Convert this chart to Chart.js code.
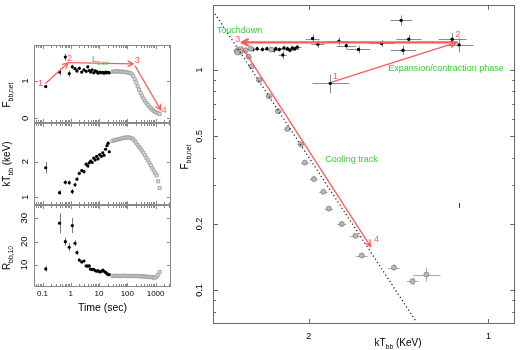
<!DOCTYPE html>
<html><head><meta charset="utf-8">
<script src="https://cdn.jsdelivr.net/npm/chart.js@4/dist/chart.umd.min.js"></script>
<style>
html,body{margin:0;padding:0;background:#fff}
#wrap{position:relative;width:520px;height:350px;overflow:hidden}
#wrap canvas{position:absolute;left:0;top:0}
</style></head>
<body><div id="wrap">
<canvas id="cFlux" width="520" height="350"></canvas>
<canvas id="cKT" width="520" height="350"></canvas>
<canvas id="cR" width="520" height="350"></canvas>
<canvas id="cRight" width="520" height="350"></canvas>
</div>
<script>
// ---------- data: left panels (time series) ----------
const tBlack = [0.13, 0.40, 0.64, 0.88, 1.13, 1.41, 1.65, 2.0, 2.43, 2.93, 3.5, 4.0, 4.5, 5.0, 5.7, 6.5, 7.3, 8.2, 9.2, 10.5, 12, 13.5, 15, 17, 19, 21, 23];
const fluxBlack = [0.85, 1.24, 1.64, 1.20, 1.38, 1.33, 1.27, 1.34, 1.24, 1.30, 1.26, 1.38, 1.28, 1.24, 1.30, 1.22, 1.27, 1.25, 1.21, 1.24, 1.22, 1.23, 1.21, 1.24, 1.22, 1.23, 1.22];
const fluxBlackErr = [0.04, 0.09, 0.09, 0.08, 0.06, 0.05, 0.05, 0.05, 0.04, 0.04, 0.04, 0.04, 0.04, 0.03, 0.03, 0.03, 0.03, 0.03, 0.03, 0.03, 0.03, 0.03, 0.03, 0.03, 0.03, 0.03, 0.03];
const ktBlack = [1.83, 1.13, 1.42, 1.41, 1.16, 1.35, 1.51, 1.67, 1.75, 1.72, 1.93, 1.88, 1.97, 2.02, 1.98, 2.10, 2.05, 2.15, 2.08, 2.20, 2.15, 2.25, 2.18, 2.35, 2.45, 2.52, 2.28];
const ktBlackErr = [0.16, 0.07, 0.07, 0.06, 0.08, 0.06, 0.05, 0.05, 0.05, 0.05, 0.05, 0.05, 0.05, 0.04, 0.04, 0.04, 0.04, 0.04, 0.04, 0.04, 0.04, 0.04, 0.04, 0.04, 0.04, 0.04, 0.04];
const rBlack = [8.3, 27.9, 20.0, 17.6, 26.9, 19.3, 15.3, 12.1, 11.3, 11.7, 9.6, 9.5, 9.6, 8.2, 8.0, 8.1, 7.6, 7.3, 7.6, 7.0, 7.2, 7.8, 7.3, 6.8, 6.3, 5.8, 5.9];
const rBlackErr = [1.2, 4.3, 1.7, 1.7, 3.2, 1.3, 1.0, 0.8, 0.7, 0.6, 0.5, 0.5, 0.5, 0.5, 0.5, 0.5, 0.5, 0.5, 0.5, 0.5, 0.5, 0.5, 0.5, 0.5, 0.5, 0.5, 0.5];

const tGray = [30, 34, 38, 43, 48, 54, 61, 69, 78, 88, 100, 113, 127, 143, 161, 182, 205, 231, 260, 293, 330, 372, 419, 472, 532, 600, 676, 762, 858, 967, 1090, 1230, 1385];
const fluxGray = [1.25, 1.25, 1.26, 1.26, 1.26, 1.25, 1.25, 1.25, 1.24, 1.24, 1.23, 1.22, 1.21, 1.18, 1.13, 1.05, 0.96, 0.86, 0.77, 0.68, 0.60, 0.53, 0.46, 0.41, 0.36, 0.31, 0.27, 0.23, 0.20, 0.17, 0.15, 0.13, 0.12];
const ktGray = [2.58, 2.60, 2.61, 2.62, 2.63, 2.64, 2.65, 2.66, 2.67, 2.68, 2.68, 2.68, 2.67, 2.66, 2.63, 2.59, 2.53, 2.47, 2.42, 2.37, 2.31, 2.25, 2.18, 2.11, 2.04, 1.97, 1.90, 1.82, 1.75, 1.68, 1.62, 1.45, 1.26];
const rGray = [5.3, 5.3, 5.4, 5.3, 5.3, 5.2, 5.3, 5.3, 5.4, 5.3, 5.3, 5.2, 5.3, 5.3, 5.2, 5.3, 5.2, 5.3, 5.2, 5.1, 5.2, 5.1, 5.0, 5.0, 4.9, 4.9, 4.8, 4.7, 4.6, 4.6, 5.0, 5.8, 7.0];

// ---------- data: right panel (flux vs temperature) ----------
const kTExp = [2.48, 2.44, 2.39, 2.35, 2.32, 2.29, 2.27, 2.24, 2.21, 2.20, 2.17, 2.15, 2.13, 2.11, 2.09, 1.97, 1.93, 1.78, 1.73, 1.65, 1.51, 1.40, 1.36, 1.39, 1.15, 1.12, 1.84];
const fExp = [1.24, 1.25, 1.24, 1.25, 1.24, 1.23, 1.25, 1.24, 1.17, 1.26, 1.25, 1.23, 1.26, 1.25, 1.27, 1.39, 1.31, 1.35, 1.29, 1.24, 1.32, 1.68, 1.38, 1.23, 1.38, 1.30, 0.87];
const kTExpErr = [0.035, 0.035, 0.035, 0.035, 0.035, 0.035, 0.035, 0.035, 0.035, 0.035, 0.035, 0.035, 0.035, 0.035, 0.035, 0.053, 0.05, 0.068, 0.066, 0.074, 0.072, 0.059, 0.066, 0.067, 0.062, 0.061, 0.13];
const fExpErr = [0.03, 0.03, 0.03, 0.03, 0.03, 0.03, 0.03, 0.03, 0.05, 0.03, 0.03, 0.03, 0.03, 0.03, 0.03, 0.057, 0.05, 0.057, 0.05, 0.05, 0.05, 0.09, 0.06, 0.06, 0.09, 0.10, 0.085];

const kTCool = [2.64, 2.62, 2.60, 2.63, 2.55, 2.50, 2.31, 2.52, 2.49, 2.42, 2.33, 2.25, 2.17, 2.06, 2.03, 1.96, 1.89, 1.85, 1.76, 1.67, 1.63, 1.44, 1.34, 1.27];
const fCool = [1.22, 1.24, 1.21, 1.20, 1.23, 1.25, 1.24, 1.15, 1.04, 0.90, 0.76, 0.65, 0.54, 0.46, 0.38, 0.32, 0.28, 0.235, 0.20, 0.177, 0.144, 0.127, 0.110, 0.118];
const kTCoolErr = [0.03, 0.03, 0.03, 0.03, 0.03, 0.03, 0.03, 0.03, 0.03, 0.03, 0.03, 0.03, 0.03, 0.03, 0.03, 0.03, 0.03, 0.03, 0.03, 0.035, 0.037, 0.033, 0.03, 0.067];
const fCoolErr = [0.02, 0.02, 0.02, 0.02, 0.02, 0.02, 0.02, 0.02, 0.02, 0.02, 0.015, 0.013, 0.011, 0.009, 0.008, 0.007, 0.006, 0.005, 0.005, 0.004, 0.004, 0.004, 0.004, 0.0085];

const kTLine = [2.87, 1.325];        // F ∝ T^4 reference line endpoints
const fLine = [1.80, 0.073];
const kTTypical = [1.12];
const fTypical = [0.243];
const fTypicalErr = [0.006];

// ---------- tick labels ----------
const timeTicks = [0.1, 1, 10, 100, 1000];
const fluxTicks = [0, 1];
const ktTicks = [1, 2];
const rTicks = [10, 20, 30];
const kTTicks = [2, 1];
const fTicks = [0.1, 0.2, 0.5, 1];

// ---------- helpers ----------
const FAM = '"Liberation Sans", Arial, Helvetica, sans-serif';
const pts = (xs, ys) => xs.map((x, i) => ({x: x, y: ys[i]}));
const logMinor = (lo, hi) => { const out = []; for (let e = -3; e <= 4; e++) for (let m = 1; m <= 9; m++) { const v = m * Math.pow(10, e); if (v >= lo && v <= hi) out.push(+v.toPrecision(6)); } return out; };

function drawRich(ctx, parts, x, y, size, color, rot, align) {
  ctx.save();
  ctx.translate(x, y);
  if (rot) ctx.rotate(rot * Math.PI / 180);
  let total = 0;
  const seg = parts.map(p => { const s = p[1] ? size * 0.68 : size; ctx.font = s + 'px ' + FAM; const w = ctx.measureText(p[0]).width; total += w; return {t: p[0], s: s, w: w, sub: p[1]}; });
  let cx = align === 'left' ? 0 : (align === 'right' ? -total : -total / 2);
  ctx.fillStyle = color;
  ctx.textBaseline = 'middle';
  ctx.textAlign = 'left';
  seg.forEach(g => { ctx.font = g.s + 'px ' + FAM; ctx.fillText(g.t, cx, g.sub ? size * 0.38 : 0); cx += g.w; });
  ctx.restore();
}

const errorBars = {
  id: 'errorBars',
  beforeDatasetsDraw(chart) {
    const ctx = chart.ctx, xs = chart.scales.x, ys = chart.scales.y, a = chart.chartArea;
    ctx.save();
    ctx.beginPath(); ctx.rect(a.left, a.top, a.right - a.left, a.bottom - a.top); ctx.clip();
    chart.data.datasets.forEach(ds => {
      if (!ds.xerr && !ds.yerr) return;
      ctx.strokeStyle = ds.errorColor || '#888';
      ctx.lineWidth = 1;
      ds.data.forEach((p, j) => {
        const px = Math.round(xs.getPixelForValue(p.x)) + 0.5, py = Math.round(ys.getPixelForValue(p.y)) + 0.5;
        ctx.beginPath();
        if (ds.xerr && ds.xerr[j]) { ctx.moveTo(xs.getPixelForValue(p.x - ds.xerr[j]), py); ctx.lineTo(xs.getPixelForValue(p.x + ds.xerr[j]), py); }
        if (ds.yerr && ds.yerr[j]) { ctx.moveTo(px, ys.getPixelForValue(p.y - ds.yerr[j])); ctx.lineTo(px, ys.getPixelForValue(p.y + ds.yerr[j])); }
        ctx.stroke();
      });
    });
    ctx.restore();
  }
};

const frameTicks = {
  id: 'frameTicks',
  afterDatasetsDraw(chart, args, o) {
    const ctx = chart.ctx, a = chart.chartArea, xs = chart.scales.x, ys = chart.scales.y;
    ctx.save();
    ctx.strokeStyle = o.color; ctx.lineWidth = 1;
    ctx.strokeRect(Math.round(a.left) + 0.5, Math.round(a.top) + 0.5, Math.round(a.right - a.left) - 1, Math.round(a.bottom - a.top) - 1);
    ctx.beginPath();
    const tx = (vals, len) => vals.forEach(v => { const p = Math.round(xs.getPixelForValue(v)) + 0.5; if (p < a.left || p > a.right) return; ctx.moveTo(p, a.bottom); ctx.lineTo(p, a.bottom - len); ctx.moveTo(p, a.top); ctx.lineTo(p, a.top + len); });
    const ty = (vals, len) => vals.forEach(v => { const p = Math.round(ys.getPixelForValue(v)) + 0.5; if (p < a.top || p > a.bottom) return; ctx.moveTo(a.left, p); ctx.lineTo(a.left + len, p); ctx.moveTo(a.right, p); ctx.lineTo(a.right - len, p); });
    tx(o.xMinor || [], o.minorLen); tx(o.xMajor || [], o.majorLen);
    ty(o.yMinor || [], o.minorLen); ty(o.yMajor || [], o.majorLen);
    ctx.stroke();
    ctx.restore();
  }
};

const arrows = {
  id: 'arrows',
  afterDatasetsDraw(chart, args, o) {
    const ctx = chart.ctx, xs = chart.scales.x, ys = chart.scales.y;
    ctx.save();
    ctx.strokeStyle = o.color; ctx.lineCap = 'round'; ctx.lineJoin = 'round';
    (o.items || []).forEach(it => {
      const x1 = xs.getPixelForValue(it.from[0]), y1 = ys.getPixelForValue(it.from[1]);
      const x2 = xs.getPixelForValue(it.to[0]), y2 = ys.getPixelForValue(it.to[1]);
      const ang = Math.atan2(y2 - y1, x2 - x1), L = o.head, w = 0.45;
      ctx.lineWidth = it.width || 1.2;
      ctx.beginPath(); ctx.moveTo(x1, y1); ctx.lineTo(x2, y2);
      ctx.moveTo(x2 - L * Math.cos(ang - w), y2 - L * Math.sin(ang - w)); ctx.lineTo(x2, y2);
      ctx.lineTo(x2 - L * Math.cos(ang + w), y2 - L * Math.sin(ang + w));
      ctx.stroke();
    });
    ctx.restore();
  }
};

const texts = {
  id: 'texts',
  afterDraw(chart, args, o) {
    const ctx = chart.ctx, xs = chart.scales.x, ys = chart.scales.y, a = chart.chartArea;
    (o.items || []).forEach(it => {
      const x = it.xd !== undefined ? xs.getPixelForValue(it.xd) : it.x;
      const y = it.yd !== undefined ? ys.getPixelForValue(it.yd) : it.y;
      drawRich(ctx, it.parts, x, y, it.size, it.color || '#000', it.rot || 0, it.align || 'center');
    });
    (o.yLabels || []).forEach(v => drawRich(ctx, [[String(v)]], a.left - o.yLabelOffset, ys.getPixelForValue(v), o.yLabelSize, '#000', -90, 'center'));
  }
};

Chart.register(errorBars, frameTicks, arrows, texts);

const RED = '#ff5a5a', GREEN = '#3cc83c';

function timeScale(showLabels) {
  return {
    type: 'logarithmic', min: 0.05, max: 3500, display: showLabels,
    grid: {display: false, drawTicks: false}, border: {display: false},
    afterBuildTicks: s => { s.ticks = timeTicks.map(v => ({value: v})); },
    afterFit: s => { s.height = showLabels ? 63 : 0; },
    ticks: {display: true, autoSkip: false, maxRotation: 0, padding: 2, font: {size: 8, family: FAM}, color: '#000', callback: v => String(v)},
    title: {display: true, text: 'Time (sec)', font: {size: 10.5, family: FAM}, color: '#000', padding: {top: 0, bottom: 36}}
  };
}
function hiddenY(min, max, type) {
  return {type: type || 'linear', min: min, max: max, display: false};
}
function blackDs(xs, ys, yerr) {
  return {data: pts(xs, ys), yerr: yerr, errorColor: '#777', pointRadius: 1.6, pointBackgroundColor: '#000', pointBorderWidth: 0, showLine: false};
}
function grayDs(xs, ys) {
  return {data: pts(xs, ys), pointStyle: 'rect', pointRadius: 2.2, pointBackgroundColor: '#dcdcdc', pointBorderColor: '#9a9a9a', pointBorderWidth: 0.8, showLine: false};
}
const base = {responsive: false, animation: false, events: [], devicePixelRatio: 1};
const timeMinor = logMinor(0.05, 3500);

// Panel 1: flux vs time
new Chart(document.getElementById('cFlux'), {
  type: 'scatter',
  data: {datasets: [grayDs(tGray, fluxGray), blackDs(tBlack, fluxBlack, fluxBlackErr)]},
  options: Object.assign({}, base, {
    layout: {padding: {left: 34, right: 349, top: 45, bottom: 227}},
    scales: {x: timeScale(false), y: hiddenY(-0.126, 1.965)},
    plugins: {
      legend: {display: false}, tooltip: {enabled: false},
      frameTicks: {color: '#8a8a8a', xMajor: timeTicks, xMinor: timeMinor, yMajor: fluxTicks, majorLen: 4, minorLen: 3},
      arrows: {color: RED, head: 6, items: [
        {from: [0.13, 0.94], to: [0.81, 1.49]},
        {from: [0.81, 1.49], to: [162, 1.46]},
        {from: [190, 1.40], to: [1530, 0.22]}
      ]},
      texts: {yLabels: fluxTicks, yLabelOffset: 9, yLabelSize: 9.5, items: [
        {parts: [['1']], xd: 0.085, yd: 0.93, size: 9, color: RED},
        {parts: [['2']], xd: 0.90, yd: 1.60, size: 9, color: RED},
        {parts: [['3']], xd: 225, yd: 1.54, size: 9, color: RED},
        {parts: [['4']], xd: 2000, yd: 0.20, size: 9, color: RED},
        {parts: [['L'], ['Edd', 1]], xd: 10.8, yd: 1.57, size: 9, color: GREEN},
        {parts: [['F'], ['bb,net', 1]], x: 7, y: 95, size: 10, rot: -90}
      ]}
    }
  })
});

// Panel 2: kT vs time
new Chart(document.getElementById('cKT'), {
  type: 'scatter',
  data: {datasets: [grayDs(tGray, ktGray), blackDs(tBlack, ktBlack, ktBlackErr)]},
  options: Object.assign({}, base, {
    layout: {padding: {left: 34, right: 349, top: 123, bottom: 145}},
    scales: {x: timeScale(false), y: hiddenY(0.784, 3.087)},
    plugins: {
      legend: {display: false}, tooltip: {enabled: false},
      frameTicks: {color: '#8a8a8a', xMajor: timeTicks, xMinor: timeMinor, yMajor: ktTicks, majorLen: 4, minorLen: 3},
      texts: {yLabels: ktTicks, yLabelOffset: 9, yLabelSize: 9.5, items: [
        {parts: [['kT'], ['bb', 1], [' (keV)']], x: 7, y: 164, size: 10, rot: -90}
      ]}
    }
  })
});

// Panel 3: radius vs time
new Chart(document.getElementById('cR'), {
  type: 'scatter',
  data: {datasets: [grayDs(tGray, rGray), blackDs(tBlack, rBlack, rBlackErr)]},
  options: Object.assign({}, base, {
    layout: {padding: {left: 34, right: 349, top: 205, bottom: 0}},
    scales: {x: timeScale(true), y: hiddenY(0.56, 35.7)},
    plugins: {
      legend: {display: false}, tooltip: {enabled: false},
      frameTicks: {color: '#8a8a8a', xMajor: timeTicks, xMinor: timeMinor, yMajor: rTicks, majorLen: 4, minorLen: 3},
      texts: {yLabels: rTicks, yLabelOffset: 10, yLabelSize: 9.5, items: [
        {parts: [['R'], ['bb,10', 1]], x: 7, y: 258, size: 10, rot: -90}
      ]}
    }
  })
});

// Right panel: flux vs kT
new Chart(document.getElementById('cRight'), {
  type: 'scatter',
  data: {datasets: [
    {data: pts(kTLine, fLine), showLine: true, pointRadius: 0, borderColor: '#222', borderWidth: 1.3, borderDash: [1.2, 2.6], clip: 0},
    {data: pts(kTCool, fCool), xerr: kTCoolErr, yerr: fCoolErr, errorColor: '#a8a8a8', pointRadius: 2.5, pointBackgroundColor: '#b8b8b8', pointBorderColor: '#808080', pointBorderWidth: 0.8, showLine: false},
    {data: pts(kTExp, fExp), xerr: kTExpErr, yerr: fExpErr, errorColor: '#8c8c8c', pointRadius: 1.7, pointBackgroundColor: '#000', pointBorderWidth: 0, showLine: false},
    {data: pts(kTTypical, fTypical), yerr: fTypicalErr, errorColor: '#333', pointRadius: 0, showLine: false}
  ]},
  options: Object.assign({}, base, {
    layout: {padding: {left: 213, right: 1, top: 1, bottom: 0}},
    scales: {
      x: {type: 'logarithmic', reverse: true, min: 0.902, max: 2.892, display: true,
        grid: {display: false, drawTicks: false}, border: {display: false},
        afterBuildTicks: s => { s.ticks = kTTicks.map(v => ({value: v})); },
        afterFit: s => { s.height = 26; },
        ticks: {autoSkip: false, maxRotation: 0, padding: 7, font: {size: 9, family: FAM}, color: '#000', callback: v => String(v)}},
      y: hiddenY(0.0704, 1.977, 'logarithmic')
    },
    plugins: {
      legend: {display: false}, tooltip: {enabled: false},
      frameTicks: {color: '#6a6a6a', xMajor: kTTicks, yMajor: fTicks, yMinor: logMinor(0.0704, 1.977), majorLen: 5, minorLen: 3},
      arrows: {color: RED, head: 7, items: [
        {from: [1.825, 0.884], to: [1.13, 1.335], width: 1.3},
        {from: [1.13, 1.335], to: [2.59, 1.335], width: 2.2},
        {from: [2.59, 1.277], to: [1.575, 0.158], width: 1.3}
      ]},
      texts: {yLabels: fTicks, yLabelOffset: 13, yLabelSize: 9, items: [
        {parts: [['1']], xd: 1.805, yd: 0.937, size: 9, color: RED},
        {parts: [['2']], xd: 1.126, yd: 1.455, size: 9, color: RED},
        {parts: [['3']], xd: 2.63, yd: 1.38, size: 9, color: RED},
        {parts: [['4']], xd: 1.54, yd: 0.17, size: 9, color: RED},
        {parts: [['Touchdown']], xd: 2.85, yd: 1.51, size: 9, color: GREEN, align: 'left'},
        {parts: [['Expansion/contraction phase']], xd: 1.178, yd: 1.02, size: 9, color: GREEN},
        {parts: [['Cooling track']], xd: 1.876, yd: 0.392, size: 9, color: GREEN, align: 'left'},
        {parts: [['F'], ['bb,net', 1]], x: 185, y: 157, size: 10, rot: -90},
        {parts: [['kT'], ['bb', 1], [' (KeV)']], x: 398, y: 343, size: 10}
      ]}
    }
  })
});
</script>
</body></html>
